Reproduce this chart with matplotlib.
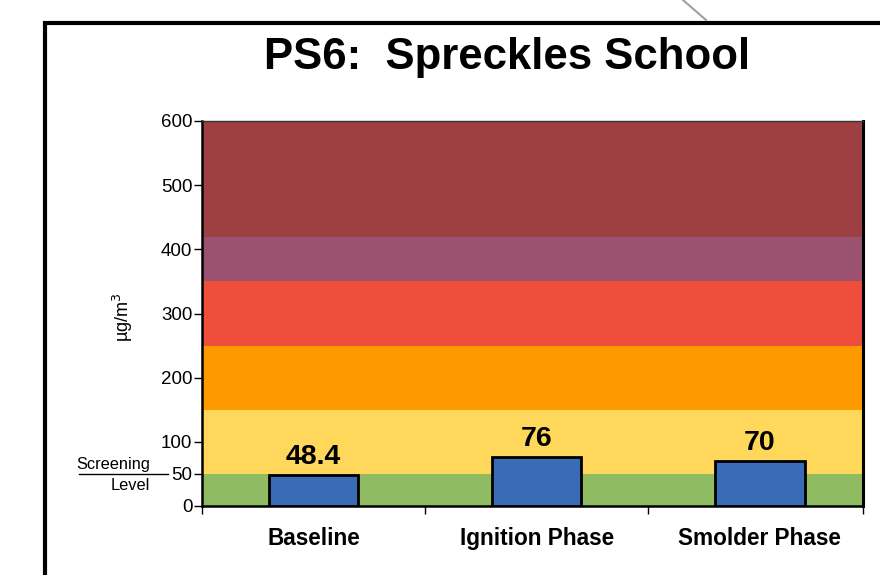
import matplotlib
matplotlib.use("Agg")
import matplotlib.pyplot as plt
from matplotlib.patches import Rectangle
from matplotlib.lines import Line2D

plt.rcParams['font.family'] = ['Liberation Sans', 'DejaVu Sans']

# Data
categories = ["Baseline", "Ignition Phase", "Smolder Phase"]
values = [48.4, 76, 70]
value_labels = ["48.4", "76", "70"]
band_edges = [0, 50, 150, 250, 350, 420, 600]
band_colors = ["#8FBC63", "#FFD75A", "#FF9900", "#F04E3C", "#9B5270", "#9E4042"]
yticks = [0, 50, 100, 200, 300, 400, 500, 600]
screening_level = 50

fig = plt.figure(figsize=(8.8, 5.75), dpi=100)
ax = fig.add_axes([202/880, 1-506/575, (863-202)/880, (506-121)/575])

# Background bands
for lo, hi, c in zip(band_edges[:-1], band_edges[1:], band_colors):
    ax.axhspan(lo, hi, color=c, zorder=0, lw=0)

x = list(range(len(categories)))
ax.bar(x, values, width=0.40, color="#3A6BB5", edgecolor="black", linewidth=2, zorder=3)
for xi, v, lab in zip(x, values, value_labels):
    ax.text(xi, v + 8, lab, ha="center", va="bottom", fontsize=20.5, fontweight="bold", zorder=4)

ax.set_xlim(-0.5, 2.462)
ax.set_ylim(0, 600)
ax.set_yticks(yticks)
ax.set_yticklabels([str(t) for t in yticks], fontsize=13.5)
ax.tick_params(axis="y", direction="out", length=6, width=1, pad=1)

ax.set_xticks(x)
ax.set_xticklabels(categories, fontsize=16.3, fontweight="bold")
ax.tick_params(axis="x", length=0, pad=15)
ax.set_xticks([-0.5, 0.5, 1.5, 2.462], minor=True)
ax.tick_params(axis="x", which="minor", direction="out", length=6, width=1)

for s in ["left", "bottom"]:
    ax.spines[s].set_linewidth(1.8)
    ax.spines[s].set_color("black")
ax.spines["right"].set_linewidth(2.2)
ax.spines["right"].set_color("black")
ax.spines["top"].set_linewidth(1)
ax.spines["top"].set_color("#333333")

ax.set_ylabel("µg/m$^3$", fontsize=13)
ax.yaxis.set_label_coords((135 - 202)/661, 0.49)

# Screening level annotation
fig.text(150/880, 1-464/575, "Screening", ha="right", va="center", fontsize=11.8)
fig.text(150/880, 1-486/575, "Level", ha="right", va="center", fontsize=11.8)
fig.add_artist(Line2D([79/880, 168/880], [1-474/575, 1-474/575], color="black", lw=1))

# Title
fig.text(507/880, 1-58/575, "PS6:  Spreckles School", ha="center", va="center",
         fontsize=31.5, fontweight="bold")

# Outer frame and decorative line
fig.add_artist(Rectangle((45/880, -0.05), 1.0, 1-23/575 + 0.05, fill=False,
                         edgecolor="black", lw=3, transform=fig.transFigure))
fig.add_artist(Line2D([683/880, 706/880], [1.0, 1-20/575], color="#A0A0A0", lw=1.5))

fig.savefig("out.png", dpi=100)
